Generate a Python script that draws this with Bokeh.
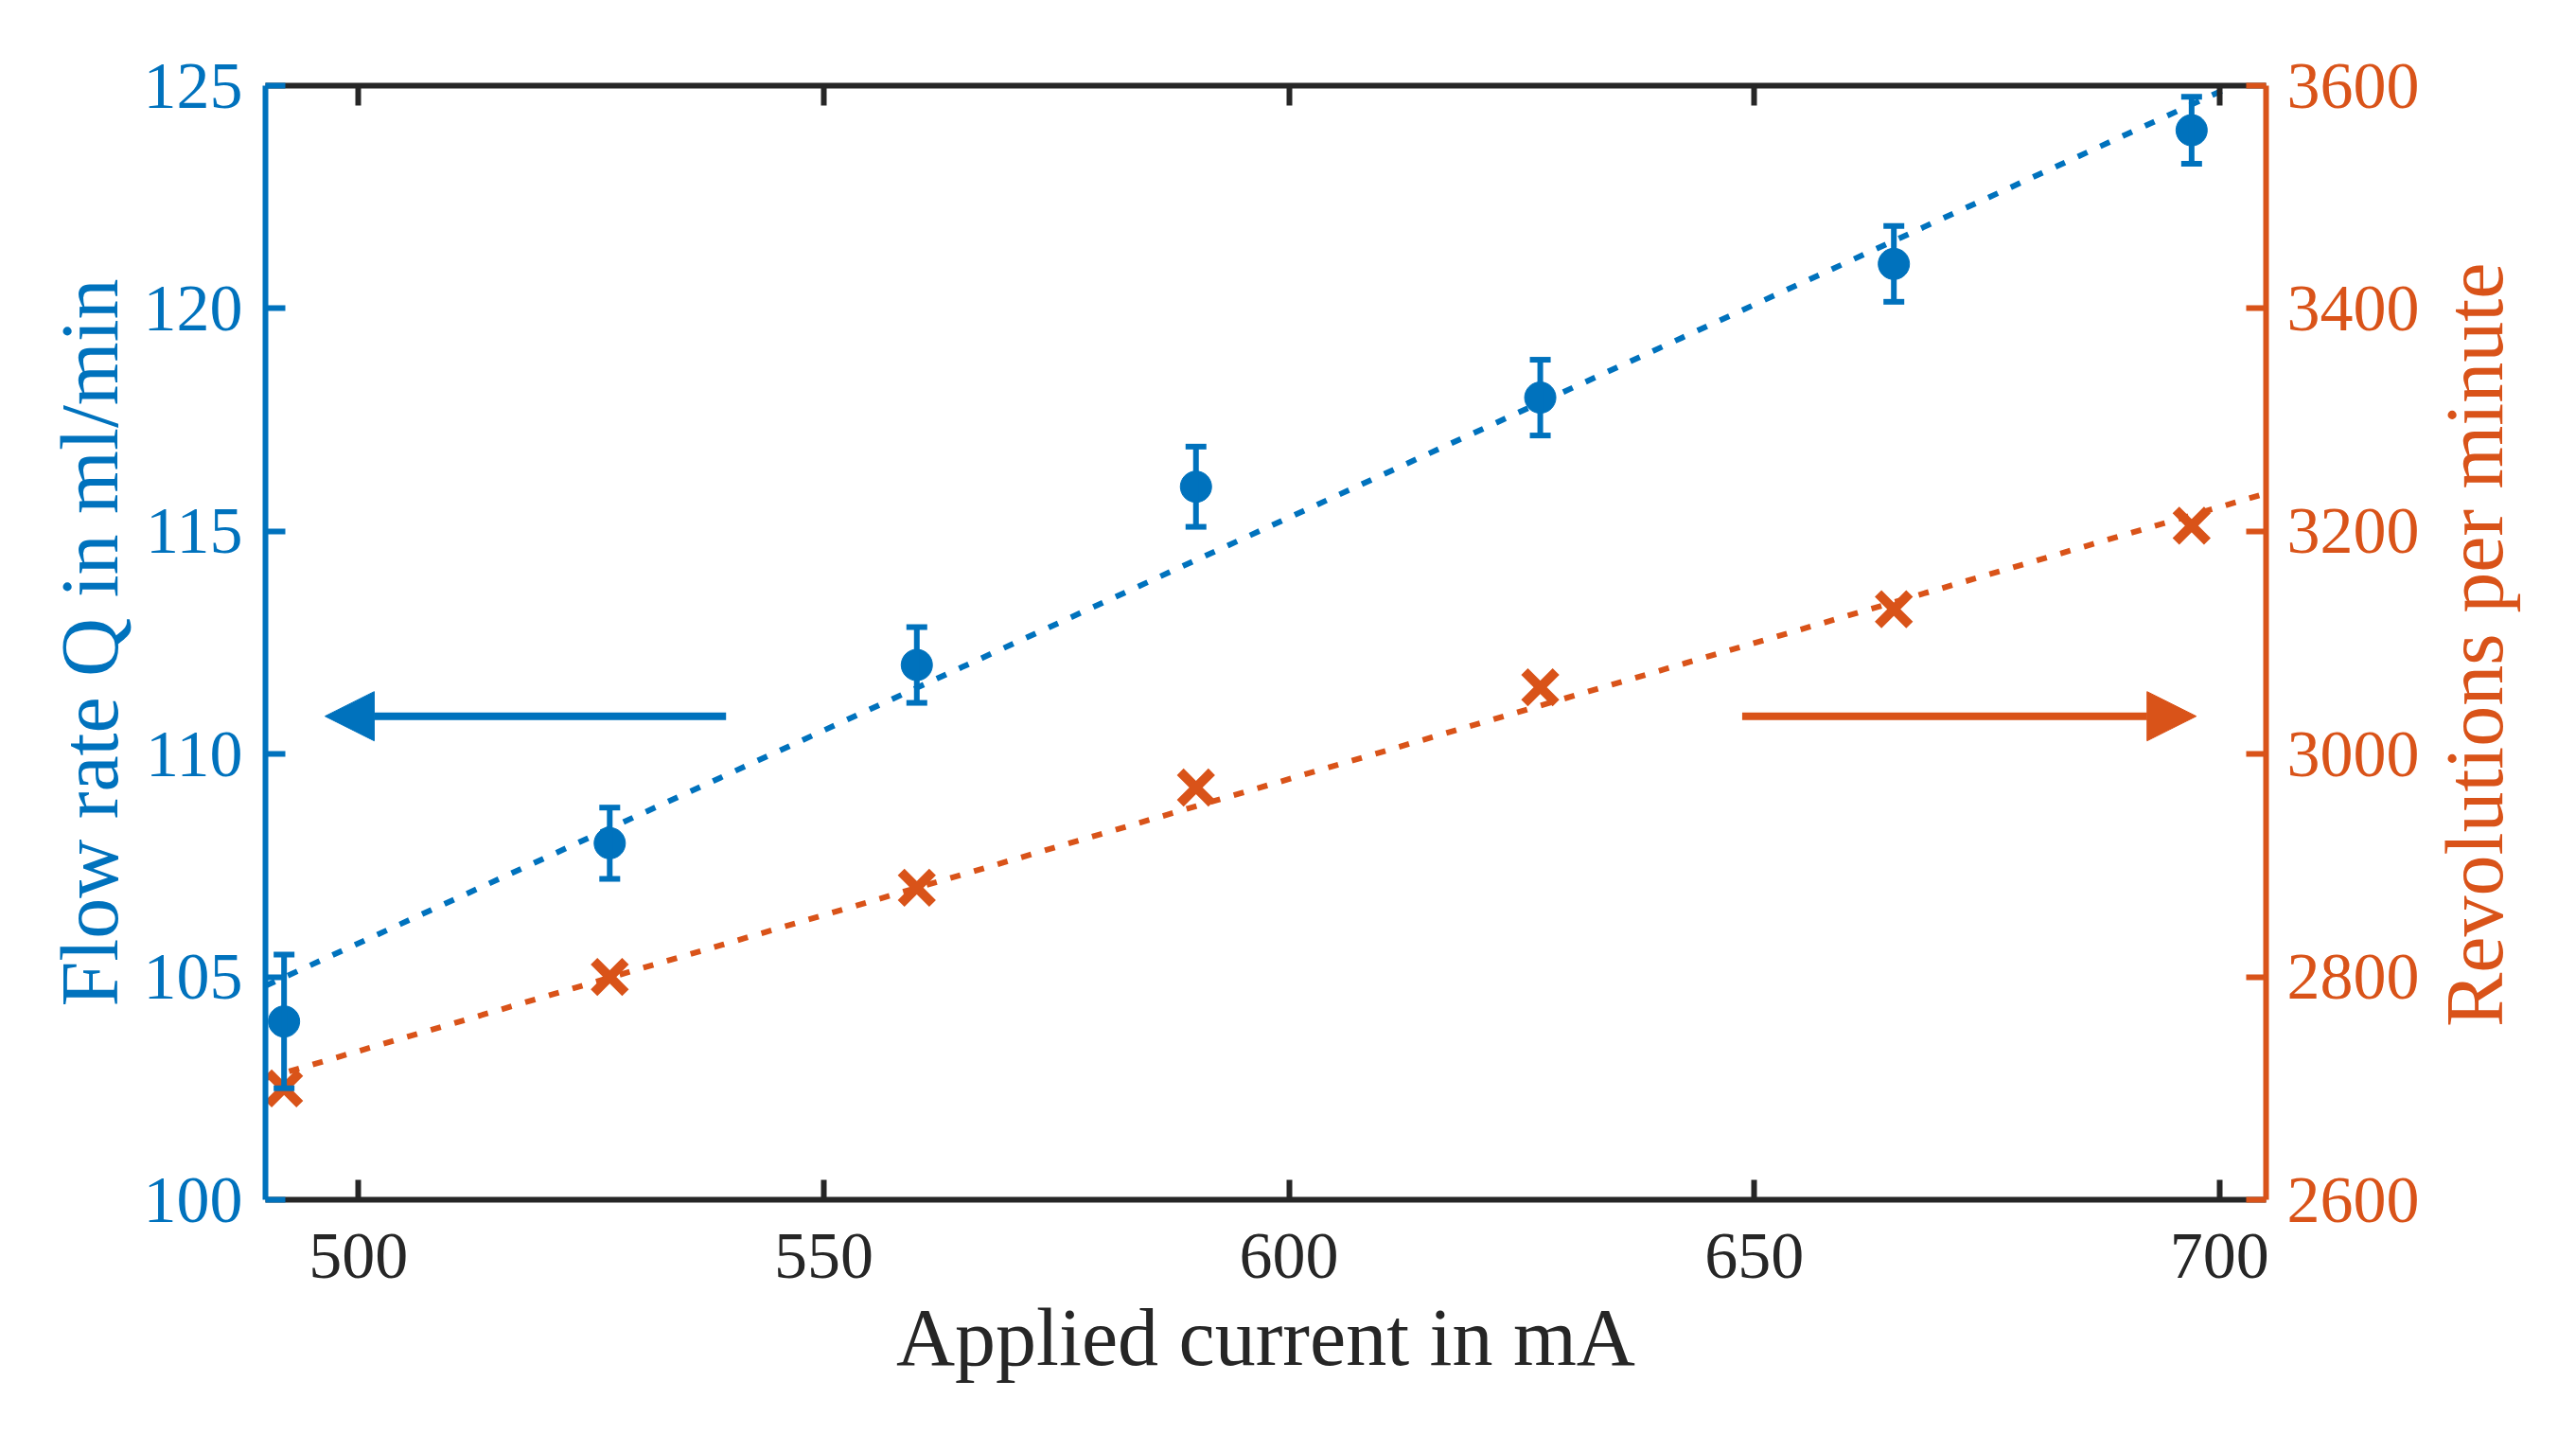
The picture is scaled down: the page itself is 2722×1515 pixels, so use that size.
import math
from bokeh.plotting import figure
from bokeh.models import (Range1d, LinearAxis, FixedTicker, Whisker, TeeHead,
                          Arrow, NormalHead, ColumnDataSource, Label)
from bokeh.embed import file_html
from bokeh.resources import INLINE

# ---------------- data ----------------
current_ma = [492, 527, 560, 590, 627, 665, 697]
flow_q = [104, 108, 112, 116, 118, 121, 124]
flow_err = [1.5, 0.8, 0.85, 0.9, 0.85, 0.85, 0.75]
rpm = [2700, 2800, 2880, 2970, 3060, 3130, 3205]

fit_x = [490, 705]
fit_q = [104.8, 125.34]
fit_rpm = [2709, 3234]

x_ticks = [500, 550, 600, 650, 700]
q_ticks = [100, 105, 110, 115, 120, 125]
rpm_ticks = [2600, 2800, 3000, 3200, 3400, 3600]

arrow_q_x = [539.5, 496.4]      # tail, tip (points to left axis)
arrow_q_y = 110.85
arrow_rpm_x = [648.7, 697.5]    # tail, tip (points to right axis)
arrow_rpm_y = 3034

# ---------------- style ----------------
BLUE = "#0072BD"
ORANGE = "#D95319"
DARK = "#262626"
FONT = "Liberation Serif"

p = figure(width=2706, height=1499,
           x_range=Range1d(490, 705), y_range=Range1d(100, 125),
           output_backend="svg", toolbar_location=None,
           x_axis_label="Applied current in mA",
           y_axis_label="Flow rate Q in ml/min",
           min_border_left=280, min_border_right=312,
           min_border_top=90, min_border_bottom=232)
p.extra_y_ranges = {"rpm": Range1d(2600, 3600)}
p.grid.visible = False
p.outline_line_color = None
p.background_fill_color = "white"
p.border_fill_color = "white"

bottom_axis = p.below[0]
left_axis = p.left[0]
right_axis = LinearAxis(y_range_name="rpm")
p.add_layout(right_axis, "right")
top_axis = LinearAxis()
p.add_layout(top_axis, "above")


def style_axis(ax, color):
    ax.axis_line_color = color
    ax.axis_line_width = 6
    ax.major_tick_line_color = color
    ax.major_tick_line_width = 6
    ax.major_tick_in = 21
    ax.major_tick_out = 0
    ax.minor_tick_line_color = None
    ax.major_label_text_color = color
    ax.major_label_text_font = FONT
    ax.major_label_text_font_size = "70px"
    ax.axis_label_text_color = color
    ax.axis_label_text_font = FONT
    ax.axis_label_text_font_size = "86px"
    ax.axis_label_text_font_style = "normal"


style_axis(bottom_axis, DARK)
style_axis(top_axis, DARK)
style_axis(left_axis, BLUE)
style_axis(right_axis, ORANGE)

bottom_axis.ticker = FixedTicker(ticks=x_ticks)
top_axis.ticker = FixedTicker(ticks=x_ticks)
top_axis.major_label_text_color = None
left_axis.ticker = FixedTicker(ticks=q_ticks)
right_axis.ticker = FixedTicker(ticks=rpm_ticks)

bottom_axis.major_label_standoff = 36
bottom_axis.axis_label_standoff = 12
left_axis.major_label_standoff = 24
left_axis.axis_label_standoff = 6
right_axis.major_label_standoff = 22

# right-hand axis title, reading bottom to top like the left one
# (placed in the right side panel so that it is not clipped to the frame)
p.add_layout(Label(x=727.4, y=112.45,
                   text="Revolutions per minute", angle=math.pi / 2,
                   text_align="center", text_baseline="alphabetic",
                   text_font=FONT, text_font_size="86px",
                   text_color=ORANGE), "right")

# ---------------- fits ----------------
p.line(fit_x, fit_q, line_color=BLUE, line_width=6, line_dash="11 15")
p.line(fit_x, fit_rpm, line_color=ORANGE, line_width=6, line_dash="11 15",
       y_range_name="rpm")

# ---------------- error bars ----------------
src = ColumnDataSource(dict(
    x=current_ma, q=flow_q,
    upper=[q + e for q, e in zip(flow_q, flow_err)],
    lower=[q - e for q, e in zip(flow_q, flow_err)],
))
whisk = Whisker(base="x", upper="upper", lower="lower", source=src,
                line_color=BLUE, line_width=6, level="glyph",
                upper_head=TeeHead(size=22, line_color=BLUE, line_width=6),
                lower_head=TeeHead(size=22, line_color=BLUE, line_width=6))
p.add_layout(whisk)

# ---------------- markers ----------------
p.scatter(x="x", y="q", source=src, marker="circle", size=33,
          fill_color=BLUE, line_color=BLUE, line_width=1)
p.scatter(current_ma, rpm, marker="x", size=47, line_color=ORANGE,
          line_width=10, y_range_name="rpm")

# ---------------- arrows ----------------
p.add_layout(Arrow(x_start=arrow_q_x[0], y_start=arrow_q_y,
                   x_end=arrow_q_x[1], y_end=arrow_q_y,
                   line_color=BLUE, line_width=8,
                   end=NormalHead(size=52, fill_color=BLUE, line_color=BLUE,
                                  line_width=1)))
p.add_layout(Arrow(x_start=arrow_rpm_x[0], y_start=arrow_rpm_y,
                   x_end=arrow_rpm_x[1], y_end=arrow_rpm_y,
                   y_range_name="rpm",
                   line_color=ORANGE, line_width=8,
                   end=NormalHead(size=52, fill_color=ORANGE, line_color=ORANGE,
                                  line_width=1)))

open("out.html", "w").write(file_html(p, INLINE))
